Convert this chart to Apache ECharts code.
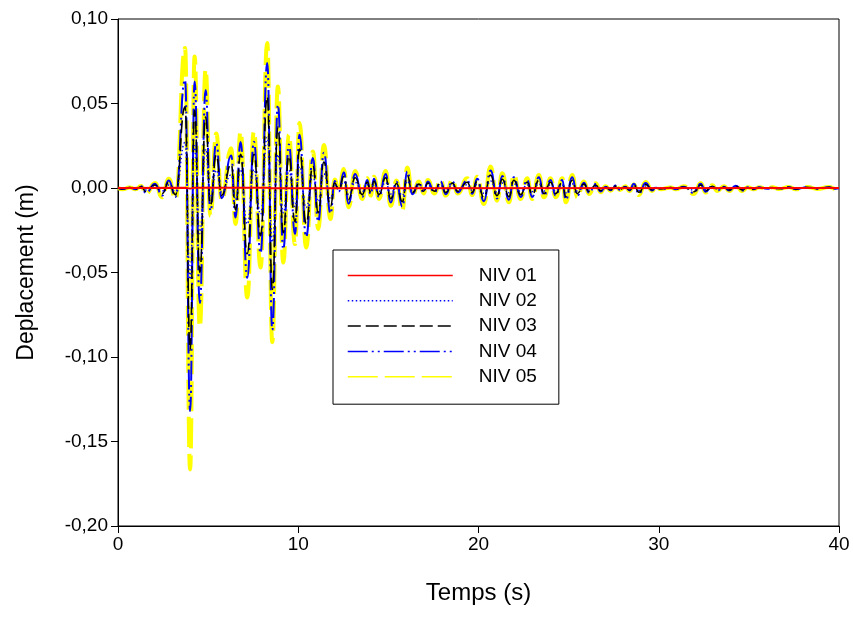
<!DOCTYPE html>
<html>
<head>
<meta charset="utf-8">
<script src="https://cdn.jsdelivr.net/npm/echarts@6/dist/echarts.min.js"></script>
<style>
html,body{margin:0;padding:0;background:#fff;}
#chart{width:853px;height:617px;}
</style>
</head>
<body>
<div id="chart"></div>
<script>
// Time (s) of the read-off points
const time = [
  0, 0.25, 0.65, 0.97, 1.28, 1.55, 2.05, 2.45, 2.82, 3.19,
  3.72, 4.00, 4.25, 4.54, 4.86, 5.13, 5.45, 5.75, 6.28, 6.52,
  6.80, 7.17, 7.54, 7.91, 8.28, 8.56, 8.87, 9.17, 9.48, 9.82,
  10.07, 10.44, 10.81, 11.11, 11.42, 11.79, 12.02, 12.25, 12.53, 12.79,
  13.16, 13.55, 13.83, 14.02, 14.20, 14.48, 14.85, 15.13, 15.45, 15.77,
  16.05, 16.33, 16.70, 16.95, 17.19, 17.55, 17.90, 18.18, 18.55, 18.85,
  19.38, 19.65, 19.93, 20.30, 20.67, 21.03, 21.32, 21.69, 21.96, 22.34,
  22.70, 22.98, 23.35, 23.63, 24.00, 24.28, 24.65, 24.84, 25.20, 25.48,
  25.85, 26.13, 26.50, 26.78, 27.05, 27.33, 27.61, 27.85, 28.15, 28.38,
  28.62, 28.90, 29.27, 29.64, 29.85, 30.10, 30.66, 30.94, 31.40, 31.95,
  32.33, 32.60, 32.97, 33.25, 33.62, 33.90, 34.27, 34.64, 34.92, 35.28,
  35.56, 36.03, 36.30, 36.67, 37.23, 37.60, 38.25, 38.80, 39.45, 39.82, 40.00
];
const niv05 = [
  0, -0.0008, 0.0003, -0.0008, 0.0012, -0.0035, 0.0030, -0.0055, 0.0055, -0.0065,
  0.0828, -0.1665, 0.0778, -0.0822, 0.0700, -0.0165, 0.0322, -0.0072, 0.0235, -0.0213,
  0.0332, -0.0648, 0.0334, -0.0470, 0.0858, -0.0912, 0.0600, -0.0441, 0.0315, -0.0332,
  0.0384, -0.0352, 0.0216, -0.0243, 0.0255, -0.0184, 0.0050, -0.0025, 0.0113, -0.0114,
  0.0101, -0.0065, 0.0057, -0.0045, 0.0067, -0.0065, 0.0101, -0.0105, 0.0045, -0.0134,
  0.0121, -0.0045, 0.0038, -0.0032, 0.0048, -0.0032, 0.0048, -0.0045, 0.0048, -0.0032,
  0.0057, -0.0042, 0.0067, -0.0095, 0.0127, -0.0075, 0.0087, -0.0085, 0.0077, -0.0065,
  0.0057, -0.0065, 0.0077, -0.0055, 0.0057, -0.0055, 0.0057, -0.0085, 0.0077, -0.0055,
  0.0038, -0.0035, 0.0028, -0.0025, 0.0010, -0.0016, 0.0018, -0.0012, 0.0010, -0.0018,
  0.0020, -0.0042, 0.0035, -0.0018, 0.0010, -0.0008, 0.0003, -0.0008, 0.0010, -0.0036,
  0.0030, -0.0027, 0.0016, -0.0018, 0.0010, -0.0018, 0.0016, -0.0018, 0.0005, -0.0008,
  0.0005, -0.0006, 0.0005, -0.0006, 0.0006, -0.0008, 0.0006, -0.0006, 0.0006, -0.0005, 0
];
const niv04 = [
  0, -0.0006, 0.0002, -0.0007, 0.0010, -0.0029, 0.0025, -0.0045, 0.0045, -0.0053,
  0.0640, -0.1320, 0.0630, -0.0680, 0.0580, -0.0135, 0.0265, -0.0060, 0.0193, -0.0175,
  0.0272, -0.0531, 0.0274, -0.0385, 0.0740, -0.0840, 0.0492, -0.0362, 0.0258, -0.0272,
  0.0315, -0.0289, 0.0177, -0.0199, 0.0209, -0.0151, 0.0041, -0.0021, 0.0093, -0.0093,
  0.0083, -0.0053, 0.0047, -0.0037, 0.0055, -0.0053, 0.0083, -0.0086, 0.0037, -0.0110,
  0.0099, -0.0037, 0.0031, -0.0026, 0.0039, -0.0026, 0.0039, -0.0037, 0.0039, -0.0026,
  0.0047, -0.0034, 0.0055, -0.0078, 0.0104, -0.0062, 0.0071, -0.0070, 0.0063, -0.0053,
  0.0047, -0.0053, 0.0063, -0.0045, 0.0047, -0.0045, 0.0047, -0.0070, 0.0063, -0.0045,
  0.0031, -0.0029, 0.0023, -0.0021, 0.0008, -0.0013, 0.0015, -0.0010, 0.0008, -0.0015,
  0.0025, -0.0034, 0.0029, -0.0015, 0.0008, -0.0007, 0.0002, -0.0007, 0.0008, -0.0030,
  0.0025, -0.0022, 0.0013, -0.0015, 0.0008, -0.0015, 0.0013, -0.0015, 0.0004, -0.0007,
  0.0004, -0.0005, 0.0004, -0.0005, 0.0005, -0.0007, 0.0005, -0.0005, 0.0005, -0.0004, 0
];
const niv03 = [
  0, -0.0005, 0.0002, -0.0005, 0.0007, -0.0021, 0.0018, -0.0033, 0.0033, -0.0039,
  0.0480, -0.0960, 0.0460, -0.0500, 0.0420, -0.0100, 0.0195, -0.0043, 0.0141, -0.0128,
  0.0199, -0.0389, 0.0200, -0.0282, 0.0540, -0.0600, 0.0360, -0.0265, 0.0189, -0.0199,
  0.0230, -0.0211, 0.0130, -0.0146, 0.0153, -0.0110, 0.0030, -0.0015, 0.0068, -0.0068,
  0.0061, -0.0039, 0.0034, -0.0027, 0.0040, -0.0039, 0.0061, -0.0063, 0.0027, -0.0080,
  0.0073, -0.0027, 0.0023, -0.0019, 0.0029, -0.0019, 0.0029, -0.0027, 0.0029, -0.0019,
  0.0034, -0.0025, 0.0040, -0.0057, 0.0076, -0.0045, 0.0052, -0.0051, 0.0046, -0.0039,
  0.0034, -0.0039, 0.0046, -0.0033, 0.0034, -0.0033, 0.0034, -0.0051, 0.0046, -0.0033,
  0.0023, -0.0021, 0.0017, -0.0015, 0.0006, -0.0010, 0.0011, -0.0007, 0.0006, -0.0011,
  0.0018, -0.0025, 0.0021, -0.0011, 0.0006, -0.0005, 0.0002, -0.0005, 0.0006, -0.0022,
  0.0018, -0.0016, 0.0010, -0.0011, 0.0006, -0.0011, 0.0010, -0.0011, 0.0003, -0.0005,
  0.0003, -0.0004, 0.0003, -0.0004, 0.0004, -0.0005, 0.0004, -0.0004, 0.0004, -0.0003, 0
];
const niv02 = [
  0, -0.0003, 0.0001, -0.0003, 0.0004, -0.0012, 0.0010, -0.0018, 0.0018, -0.0021,
  0.0270, -0.0540, 0.0250, -0.0270, 0.0230, -0.0055, 0.0105, -0.0024, 0.0078, -0.0070,
  0.0110, -0.0214, 0.0110, -0.0155, 0.0300, -0.0320, 0.0198, -0.0146, 0.0104, -0.0110,
  0.0127, -0.0116, 0.0071, -0.0080, 0.0084, -0.0061, 0.0017, -0.0008, 0.0037, -0.0038,
  0.0033, -0.0021, 0.0019, -0.0015, 0.0022, -0.0021, 0.0033, -0.0035, 0.0015, -0.0044,
  0.0040, -0.0015, 0.0013, -0.0011, 0.0016, -0.0011, 0.0016, -0.0015, 0.0016, -0.0011,
  0.0019, -0.0014, 0.0022, -0.0031, 0.0042, -0.0025, 0.0029, -0.0028, 0.0025, -0.0021,
  0.0019, -0.0021, 0.0025, -0.0018, 0.0019, -0.0018, 0.0019, -0.0028, 0.0025, -0.0018,
  0.0013, -0.0012, 0.0009, -0.0008, 0.0003, -0.0005, 0.0006, -0.0004, 0.0003, -0.0006,
  0.0010, -0.0014, 0.0012, -0.0006, 0.0003, -0.0003, 0.0001, -0.0003, 0.0003, -0.0012,
  0.0010, -0.0009, 0.0005, -0.0006, 0.0003, -0.0006, 0.0005, -0.0006, 0.0002, -0.0003,
  0.0002, -0.0002, 0.0002, -0.0002, 0.0002, -0.0003, 0.0002, -0.0002, 0.0002, -0.0002, 0
];
const niv01Time = [0, 3.72, 4.00, 4.25, 8.28, 8.56, 40];
const niv01 = [0, 0.0002, -0.0003, 0.0002, 0.0002, -0.0002, 0];

const seriesNames = ['NIV 01', 'NIV 02', 'NIV 03', 'NIV 04', 'NIV 05'];
const xTicks = {min: 0, max: 40, step: 10};
const yTicks = {min: -0.20, max: 0.10, step: 0.05};

const pairs = (t, v) => t.map((x, i) => [x, v[i]]);
const FONT = '"Liberation Sans", Arial, sans-serif';

const chart = echarts.init(document.getElementById('chart'), null, {renderer: 'canvas'});
const common = {type: 'line', showSymbol: false, symbol: 'none', smooth: 0.5, smoothMonotone: 'x', animation: false};

chart.setOption({
  backgroundColor: '#ffffff',
  animation: false,
  grid: {left: 118, top: 19, right: 14, bottom: 91, show: true, borderColor: '#000', borderWidth: 1, backgroundColor: 'transparent'},
  xAxis: {
    type: 'value', min: xTicks.min, max: xTicks.max, interval: xTicks.step,
    name: 'Temps (s)', nameLocation: 'middle', nameGap: 55,
    nameTextStyle: {fontFamily: FONT, fontSize: 24, color: '#000'},
    axisLine: {show: true, onZero: false, lineStyle: {color: '#000', width: 1}},
    axisTick: {show: true, inside: false, length: 7, lineStyle: {color: '#000'}},
    axisLabel: {fontFamily: FONT, fontSize: 19, color: '#000', margin: 9},
    splitLine: {show: false}
  },
  yAxis: {
    type: 'value', min: yTicks.min, max: yTicks.max, interval: yTicks.step,
    name: 'Deplacement (m)', nameLocation: 'middle', nameGap: 80,
    nameTextStyle: {fontFamily: FONT, fontSize: 23, color: '#000'},
    axisLine: {show: true, onZero: false, lineStyle: {color: '#000', width: 1}},
    axisTick: {show: true, inside: false, length: 7, lineStyle: {color: '#000'}},
    axisLabel: {fontFamily: FONT, fontSize: 19, color: '#000', margin: 10,
      formatter: v => (Math.abs(v) < 1e-9 ? 0 : v).toFixed(2).replace('.', ',')},
    splitLine: {show: false}
  },
  legend: {
    orient: 'vertical', left: 333, top: 250,
    backgroundColor: '#fff', borderColor: '#000', borderWidth: 1,
    padding: [16, 22, 18, 14],
    itemWidth: 105, itemHeight: 14, itemGap: 6.3,
    selectedMode: false,
    itemStyle: {opacity: 0},
    lineStyle: {width: 1.5},
    textStyle: {fontFamily: FONT, fontSize: 19, color: '#000', padding: [0, 0, 0, 21]},
    data: seriesNames
  },
  series: [
    Object.assign({}, common, {name: seriesNames[0], z: 7, data: pairs(niv01Time, niv01),
      lineStyle: {color: '#ff0000', width: 2, type: 'solid'}}),
    Object.assign({}, common, {name: seriesNames[1], z: 6, data: pairs(time, niv02),
      lineStyle: {color: '#0000ff', width: 1.5, type: [1.5, 2.5]}}),
    Object.assign({}, common, {name: seriesNames[2], z: 5, data: pairs(time, niv03),
      lineStyle: {color: '#000000', width: 1.6, type: [13, 5]}}),
    Object.assign({}, common, {name: seriesNames[3], z: 4, data: pairs(time, niv04),
      lineStyle: {color: '#0000ff', width: 2, type: [20, 4, 2, 4, 2, 4]}}),
    Object.assign({}, common, {name: seriesNames[4], z: 3, data: pairs(time, niv05),
      lineStyle: {color: '#ffff00', width: 4, type: [30, 7]}})
  ]
});
</script>
</body>
</html>
